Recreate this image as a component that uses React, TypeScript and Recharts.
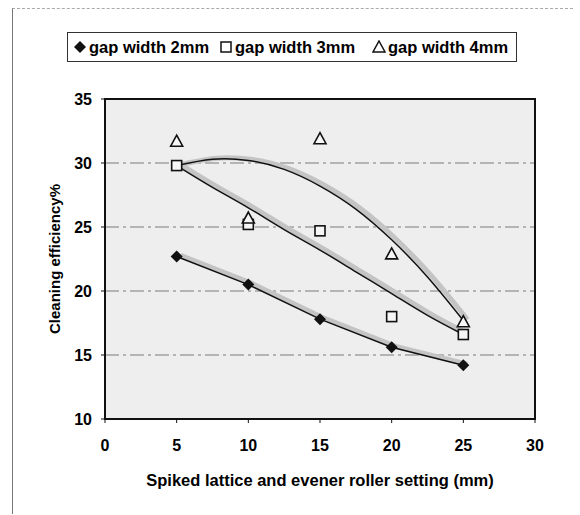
import {
  LineChart,
  Line,
  XAxis,
  YAxis,
  CartesianGrid,
  ReferenceArea,
} from "recharts";

// spiked lattice / evener roller setting (mm)
const settings = [5, 10, 15, 20, 25];
const gap2mm = [22.7, 20.5, 17.8, 15.6, 14.2];
const gap3mm = [29.8, 25.2, 24.7, 18.0, 16.6];
const gap4mm = [31.7, 25.7, 31.9, 22.9, 17.6];

// trend lines
const trendX = [5, 7.5, 10, 12.5, 15, 17.5, 20, 22.5, 25];
const trend3mm = [29.8, 28.1, 26.5, 24.8, 23.2, 21.5, 19.8, 18.1, 16.6];
const trend4mm = [29.8, 30.3, 30.2, 29.5, 28.2, 26.4, 24.0, 21.1, 17.7];

const xTicks = [0, 5, 10, 15, 20, 25, 30];
const yTicks = [10, 15, 20, 25, 30, 35];

const FONT = "'Liberation Sans', Arial, sans-serif";

const toPoints = (xs: number[], ys: number[]) =>
  xs.map((x, i) => ({ x, y: ys[i] }));

const Diamond = (p: any) => {
  const { cx, cy, index } = p;
  if (cx == null || cy == null) return <g key={index} />;
  return (
    <polygon
      key={index}
      points={`${cx},${cy - 6} ${cx + 6},${cy} ${cx},${cy + 6} ${cx - 6},${cy}`}
      fill="#111"
    />
  );
};

const Square = (p: any) => {
  const { cx, cy, index } = p;
  if (cx == null || cy == null) return <g key={index} />;
  return (
    <rect
      key={index}
      x={cx - 5}
      y={cy - 5}
      width={10}
      height={10}
      fill="#f6f6f6"
      stroke="#111"
      strokeWidth={1.6}
    />
  );
};

const Triangle = (p: any) => {
  const { cx, cy, index } = p;
  if (cx == null || cy == null) return <g key={index} />;
  return (
    <polygon
      key={index}
      points={`${cx},${cy - 6} ${cx + 6},${cy + 5} ${cx - 6},${cy + 5}`}
      fill="#f6f6f6"
      stroke="#111"
      strokeWidth={1.6}
    />
  );
};

const legendItem = (left: number, icon: any, text: string) => (
  <div
    style={{
      position: "absolute",
      left,
      top: 0,
      height: 28,
      display: "flex",
      alignItems: "center",
      gap: 2,
      whiteSpace: "nowrap",
    }}
  >
    <svg width={14} height={14}>
      {icon}
    </svg>
    <span>{text}</span>
  </div>
);

export default function App() {
  const shadow = { transform: "translate(4px, -1px)" };
  return (
    <div
      style={{
        position: "absolute",
        left: 0,
        top: 0,
        width: 580,
        height: 515,
        background: "#fff",
        fontFamily: FONT,
        color: "#000",
      }}
    >
      <div
        style={{
          position: "absolute",
          left: 12,
          top: 8,
          width: 560,
          height: 505,
          borderLeft: "1px solid #777",
          borderTop: "1px dashed #aaa",
        }}
      />
      <div
        style={{
          position: "absolute",
          left: 67,
          top: 32,
          width: 448,
          height: 28,
          border: "1px solid #333",
          fontSize: 16.5,
          fontWeight: "bold",
        }}
      >
        {legendItem(
          5,
          <polygon points="7,1 13,7 7,13 1,7" fill="#111" />,
          "gap width 2mm"
        )}
        {legendItem(
          151,
          <rect x={2} y={2} width={10} height={10} fill="#fff" stroke="#111" strokeWidth={1.5} />,
          "gap width 3mm"
        )}
        {legendItem(
          304,
          <polygon points="7,1 13,12 1,12" fill="#fff" stroke="#111" strokeWidth={1.5} />,
          "gap width 4mm"
        )}
      </div>
      <div style={{ position: "absolute", left: 0, top: 0 }}>
        <LineChart
          width={580}
          height={515}
          margin={{ top: 99, right: 45, left: 60, bottom: 56 }}
        >
          <CartesianGrid
            vertical={false}
            fill="#eeeeee"
            stroke="#7a7a7a"
            strokeDasharray="14 4 3 4"
          />
          <XAxis
            dataKey="x"
            type="number"
            domain={[0, 30]}
            ticks={xTicks}
            height={40}
            allowDuplicatedCategory={false}
            axisLine={{ stroke: "#111", strokeWidth: 2 }}
            tickLine={{ stroke: "#111" }}
            tickSize={4}
            tickMargin={17}
            tick={{ fill: "#000", fontSize: 16, fontWeight: "bold", fontFamily: FONT }}
            label={{
              value: "Spiked lattice and evener roller setting (mm)",
              position: "bottom",
              offset: 15,
              fill: "#000",
              fontSize: 16.5,
              fontWeight: "bold",
              fontFamily: FONT,
            }}
          />
          <YAxis
            type="number"
            domain={[10, 35]}
            ticks={yTicks}
            width={45}
            axisLine={{ stroke: "#111", strokeWidth: 2 }}
            tickLine={{ stroke: "#111" }}
            tickSize={4}
            tickMargin={9}
            tick={{ fill: "#000", fontSize: 16, fontWeight: "bold", fontFamily: FONT }}
            label={{
              value: "Cleaning efficiency%",
              angle: -90,
              position: "left",
              offset: 5,
              fill: "#000",
              fontSize: 15,
              fontWeight: "bold",
              fontFamily: FONT,
              style: { textAnchor: "middle" },
            }}
          />
          <ReferenceArea
            x1={0}
            x2={30}
            y1={10}
            y2={35}
            fill="none"
            stroke="#111"
            strokeWidth={2}
            ifOverflow="visible"
          />
          {/* gray shadows behind the lines */}
          <Line
            data={toPoints(settings, gap2mm)}
            dataKey="y"
            stroke="#c4c4c4"
            strokeWidth={5}
            dot={false}
            style={shadow}
            isAnimationActive={false}
          />
          <Line
            data={toPoints(trendX, trend3mm)}
            dataKey="y"
            type="natural"
            stroke="#c4c4c4"
            strokeWidth={5}
            dot={false}
            style={shadow}
            isAnimationActive={false}
          />
          <Line
            data={toPoints(trendX, trend4mm)}
            dataKey="y"
            type="natural"
            stroke="#c4c4c4"
            strokeWidth={5}
            dot={false}
            style={shadow}
            isAnimationActive={false}
          />
          {/* black lines */}
          <Line
            data={toPoints(trendX, trend3mm)}
            dataKey="y"
            type="natural"
            stroke="#111"
            strokeWidth={1.5}
            dot={false}
            isAnimationActive={false}
          />
          <Line
            data={toPoints(trendX, trend4mm)}
            dataKey="y"
            type="natural"
            stroke="#111"
            strokeWidth={1.5}
            dot={false}
            isAnimationActive={false}
          />
          <Line
            data={toPoints(settings, gap2mm)}
            dataKey="y"
            stroke="#111"
            strokeWidth={1.5}
            dot={Diamond}
            isAnimationActive={false}
          />
          <Line
            data={toPoints(settings, gap3mm)}
            dataKey="y"
            stroke="none"
            dot={Square}
            isAnimationActive={false}
          />
          <Line
            data={toPoints(settings, gap4mm)}
            dataKey="y"
            stroke="none"
            dot={Triangle}
            isAnimationActive={false}
          />
        </LineChart>
      </div>
    </div>
  );
}
